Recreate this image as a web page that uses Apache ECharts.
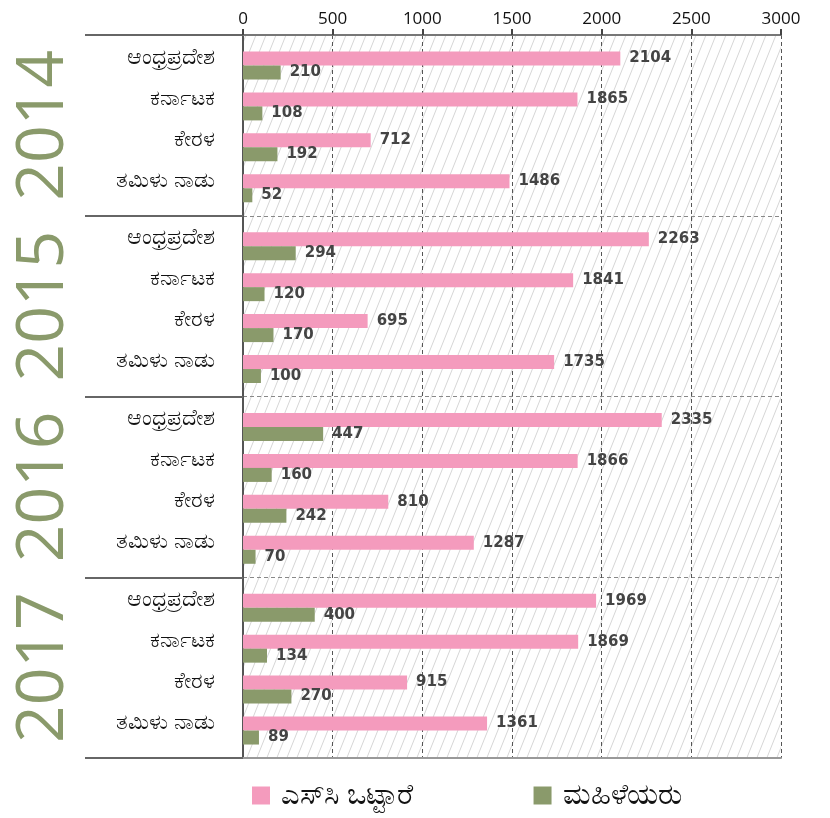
<!DOCTYPE html>
<html>
<head>
<meta charset="utf-8">
<script src="https://cdn.jsdelivr.net/npm/echarts@6/dist/echarts.min.js"></script>
<style>
  html, body { margin: 0; padding: 0; background: #fff; }
  #main { width: 830px; height: 818px; }
</style>
</head>
<body>
<div id="main"></div>
<script>
// data
const years = ['2014', '2015', '2016', '2017']
const states = ['ಆಂಧ್ರಪ್ರದೇಶ', 'ಕರ್ನಾಟಕ', 'ಕೇರಳ', 'ತಮಿಳು ನಾಡು']
const seriesNames = ['ಎಸ್‌ಸಿ ಒಟ್ಟಾರೆ', 'ಮಹಿಳೆಯರು']
const scTotal = [
  [2104, 1865, 712, 1486],
  [2263, 1841, 695, 1735],
  [2335, 1866, 810, 1287],
  [1969, 1869, 915, 1361]
]
const women = [
  [210, 108, 192, 52],
  [294, 120, 170, 100],
  [447, 160, 242, 70],
  [400, 134, 270, 89]
]
const xTicks = [0, 500, 1000, 1500, 2000, 2500, 3000]

const pink = '#f49bbd'
const green = '#8a9a6b'

// diagonal hatch for the plot background
const hatch = document.createElement('canvas')
hatch.width = 10
hatch.height = 25
const hc = hatch.getContext('2d')
hc.strokeStyle = '#d6d6d6'
hc.lineWidth = 1
hc.beginPath()
for (const dx of [-10, 0, 10]) {
  hc.moveTo(dx, 25)
  hc.lineTo(dx + 10, 0)
}
hc.stroke()

const plotTop = 35
const plotBottom = 758
const sectionH = (plotBottom - plotTop) / years.length

const grids = [{
  left: 243, right: 49, top: plotTop, bottom: 818 - plotBottom,
  show: true, borderWidth: 0,
  backgroundColor: { image: hatch, repeat: 'repeat' }
}]
const xAxes = [
  {
    gridIndex: 0, type: 'value', position: 'top',
    min: xTicks[0], max: xTicks[xTicks.length - 1], interval: xTicks[1] - xTicks[0],
    axisLine: { show: true, lineStyle: { color: '#777', width: 2 } },
    axisTick: { show: true, inside: false, length: 6, lineStyle: { color: '#444', width: 2 } },
    axisLabel: { color: '#111', fontSize: 17, fontFamily: 'Open Sans', margin: 7, formatter: v => String(v) },
    splitLine: { show: true, lineStyle: { color: '#555', type: [4, 3], width: 1 } }
  },
  {
    gridIndex: 0, type: 'value', position: 'bottom',
    min: xTicks[0], max: xTicks[xTicks.length - 1],
    axisLine: { show: true, lineStyle: { color: '#999', width: 2 } },
    axisTick: { show: false }, axisLabel: { show: false }, splitLine: { show: false }
  }
]
const yAxes = [{
  gridIndex: 0, type: 'category', data: years, inverse: true,
  axisLine: { show: true, lineStyle: { color: '#555', width: 2 } },
  axisTick: { show: true, interval: 0, inside: false, length: 158, lineStyle: { color: '#666', width: 2 } },
  axisLabel: {
    interval: 0, rotate: 90, margin: 166, color: green, fontSize: 66,
    fontFamily: 'Open Sans', fontWeight: 'normal'
  },
  splitLine: { show: true, interval: 0, lineStyle: { color: '#888', type: [4, 3], width: 1 } }
}]
const series = []

years.forEach((yr, i) => {
  const g = i + 1
  grids.push({ left: 243, right: 49, top: plotTop + i * sectionH + 10, height: sectionH - 17 })
  xAxes.push({
    gridIndex: g, type: 'value', show: false,
    min: xTicks[0], max: xTicks[xTicks.length - 1]
  })
  yAxes.push({
    gridIndex: g, type: 'category', data: states, inverse: true,
    axisLine: { show: false }, axisTick: { show: false },
    axisLabel: {
      interval: 0, color: '#111', fontSize: 22, margin: 28,
      verticalAlign: 'bottom', lineHeight: 16
    }
  })
  const label = {
    show: true, position: 'right', distance: 9,
    color: '#444', fontSize: 15, fontWeight: 'bold', fontFamily: 'DejaVu Sans'
  }
  series.push({
    name: seriesNames[0], type: 'bar', xAxisIndex: g + 1, yAxisIndex: g,
    data: scTotal[i], barWidth: 14, barGap: '0%',
    itemStyle: { color: pink }, label: label
  })
  series.push({
    name: seriesNames[1], type: 'bar', xAxisIndex: g + 1, yAxisIndex: g,
    data: women[i], barWidth: 14, barGap: '0%',
    itemStyle: { color: green }, label: label
  })
})

const myChart = echarts.init(document.getElementById('main'))
myChart.setOption({
  animation: false,
  textStyle: { fontFamily: 'Noto Sans, DejaVu Sans, sans-serif' },
  grid: grids,
  xAxis: xAxes,
  yAxis: yAxes,
  legend: {
    data: seriesNames, left: 247, top: 776,
    itemWidth: 18, itemHeight: 18, itemGap: 121,
    icon: 'rect',
    textStyle: { fontSize: 29, color: '#111', padding: [0, 0, 0, 6] }
  },
  series: series
})
</script>
</body>
</html>
